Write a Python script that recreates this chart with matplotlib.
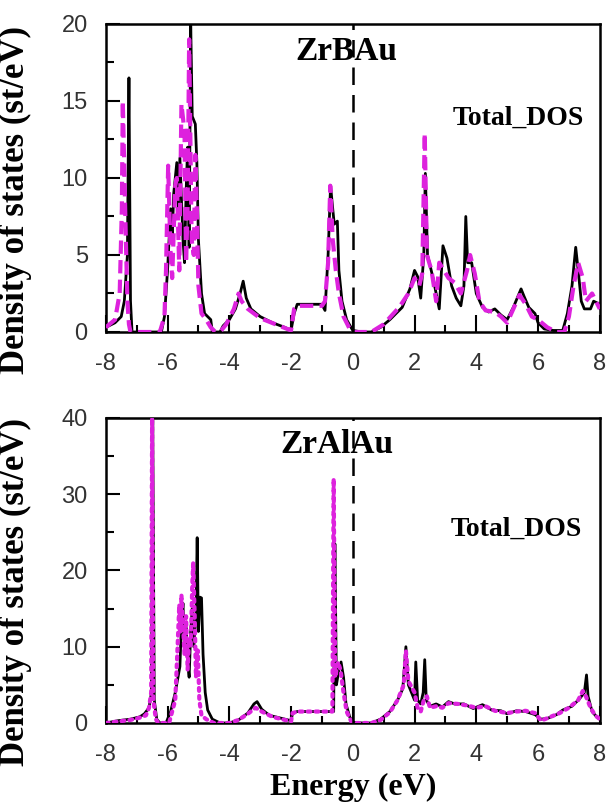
import matplotlib
matplotlib.use("Agg")
import matplotlib.pyplot as plt
from matplotlib.ticker import MultipleLocator

plt.rcParams['axes.unicode_minus'] = False
plt.rcParams['font.family'] = ['Liberation Sans', 'DejaVu Sans']

# ZrBAu total DOS (black solid) and second set (magenta dashed)
zrbau_e = [-8.0, -7.7, -7.5, -7.4, -7.3, -7.25, -7.2, -7.15, -6.2, -6.1, -6.0, -5.9, -5.85, -5.8,
           -5.7, -5.65, -5.6, -5.5, -5.45, -5.4, -5.35, -5.3, -5.25, -5.2, -5.1, -5.05, -5.0, -4.9,
           -4.8, -4.7, -4.6, -4.55, -4.3, -4.2, -4.0, -3.8, -3.65, -3.55, -3.45, -3.3, -3.0, -2.6,
           -2.2, -2.0, -1.9, -1.8, -1.0, -0.9, -0.8, -0.72, -0.65, -0.6, -0.5, -0.45, -0.35, -0.2,
           0.0, 0.3, 0.6, 0.9, 1.2, 1.6, 1.85, 2.0, 2.1, 2.2, 2.3, 2.35, 2.42, 2.6, 2.7, 2.8, 2.92,
           3.05, 3.2, 3.35, 3.5, 3.6, 3.66, 3.72, 3.85, 4.0, 4.2, 4.4, 4.6, 4.8, 5.0, 5.2, 5.45,
           5.55, 5.7, 5.9, 6.0, 6.2, 6.5, 6.8, 6.95, 7.1, 7.22, 7.3, 7.4, 7.5, 7.7, 7.8, 8.0]
zrbau_tot = [0.3, 0.6, 1.0, 2.0, 5.0, 16.5, 2.0, 0.0, 0.0, 1.0, 4.0, 8.0, 6.0, 9.0,
             11.0, 8.0, 11.3, 6.0, 4.5, 9.0, 12.0, 5.5, 20.0, 14.0, 13.5, 11.0, 6.0, 2.5,
             1.2, 1.0, 0.8, 0.0, 0.0, 0.4, 0.8, 1.5, 2.5, 3.3, 2.2, 1.5, 1.0, 0.6,
             0.3, 0.1, 1.2, 1.8, 1.8, 1.4, 5.0, 9.5, 8.0, 7.0, 7.2, 4.0, 2.0, 0.8,
             0.1, 0.0, 0.0, 0.3, 0.8, 1.6, 2.8, 4.0, 3.6, 2.2, 5.0, 10.3, 5.0, 3.5, 2.5, 1.5, 5.6,
             4.8, 3.0, 2.2, 1.7, 3.0, 7.5, 4.5, 4.5, 2.5, 1.6, 1.3, 1.5, 1.1, 0.8, 1.6, 2.8,
             2.3, 1.6, 1.2, 0.6, 0.2, 0.1, 0.1, 1.2, 3.0, 5.5, 4.0, 2.0, 1.5, 1.5, 2.0, 1.8]

zrbau_e2 = [-8.0, -7.7, -7.55, -7.48, -7.45, -7.35, -7.3, -7.25, -7.2, -6.25, -6.1, -6.05, -5.98,
            -5.9, -5.85, -5.75, -5.7, -5.62, -5.55, -5.45, -5.4, -5.35, -5.3, -5.22, -5.15, -5.1,
            -5.05, -5.0, -4.9, -4.75, -4.6, -4.45, -4.3, -4.1, -3.85, -3.7, -3.6, -3.4, -3.0, -2.5,
            -2.0, -1.9, -1.8, -1.0, -0.9, -0.8, -0.73, -0.65, -0.55, -0.45, -0.3, -0.1, 0.0, 0.6,
            1.0, 1.5, 1.8, 2.0, 2.15, 2.25, 2.33, 2.4, 2.55, 2.7, 2.8, 2.95, 3.1, 3.3, 3.5, 3.7,
            3.8, 3.95, 4.1, 4.3, 4.6, 4.8, 5.0, 5.2, 5.4, 5.6, 5.8, 6.0, 6.3, 6.6, 6.85, 7.0,
            7.15, 7.3, 7.45, 7.55, 7.75, 8.0]
zrbau_tot2 = [0.3, 0.8, 2.5, 8.0, 15.0, 6.0, 2.0, 0.5, 0.0, 0.0, 1.0, 4.0, 10.8,
              5.0, 3.5, 9.5, 10.0, 4.0, 14.8, 13.0, 4.5, 8.0, 19.0, 6.0, 5.0, 11.5,
              8.0, 3.0, 1.2, 0.8, 0.3, 0.0, 0.0, 0.5, 1.5, 2.5, 2.0, 1.5, 0.9, 0.5,
              0.1, 1.5, 1.7, 1.7, 2.0, 4.5, 9.5, 6.0, 4.0, 2.5, 1.0, 0.2, 0.0, 0.0,
              0.5, 1.6, 2.5, 3.5, 3.0, 3.8, 12.9, 5.0, 4.0, 2.0, 4.5, 4.0, 3.5, 3.2, 2.5, 4.0,
              5.0, 3.8, 2.0, 1.4, 1.3, 1.0, 0.6, 1.5, 2.4, 1.8, 1.0, 0.8, 0.3, 0.0, 0.0, 1.0,
              3.0, 4.5, 3.5, 2.0, 2.5, 1.5]

# ZrAlAu total DOS (black solid) and second set (magenta dotted)
zralau_e = [-8.0, -7.6, -7.2, -6.9, -6.75, -6.6, -6.52, -6.48, -6.43, -6.35, -6.25, -6.05, -5.9,
            -5.75, -5.6, -5.55, -5.5, -5.45, -5.4, -5.35, -5.3, -5.25, -5.2, -5.15, -5.08, -5.04,
            -5.0, -4.95, -4.9, -4.85, -4.78, -4.7, -4.55, -4.3, -4.0, -3.7, -3.4, -3.2, -3.1, -2.95,
            -2.7, -2.3, -2.0, -1.95, -1.8, -1.0, -0.62, -0.58, -0.53, -0.45, -0.38, -0.3, -0.22,
            -0.1, 0.0, 0.3, 0.6, 0.9, 1.2, 1.45, 1.62, 1.72, 1.8, 1.9, 2.0, 2.04, 2.1, 2.2, 2.28,
            2.33, 2.38, 2.5, 2.7, 2.9, 3.1, 3.3, 3.6, 3.9, 4.2, 4.5, 4.8, 5.0, 5.3, 5.6, 5.9, 6.1,
            6.3, 6.6, 6.8, 7.1, 7.35, 7.5, 7.57, 7.62, 7.75, 7.9, 8.0]
zralau_tot = [0.0, 0.3, 0.5, 0.8, 1.2, 2.0, 4.0, 40.0, 3.0, 0.5, 0.0, 0.0, 1.5,
              4.0, 7.4, 13.0, 15.7, 10.0, 12.5, 8.0, 6.0, 12.0, 15.0, 10.0, 14.0, 24.3,
              12.0, 16.5, 16.4, 9.0, 4.0, 1.7, 0.5, 0.0, 0.0, 0.4, 1.3, 2.5, 2.8, 1.8,
              1.0, 0.6, 0.3, 1.3, 1.5, 1.5, 1.5, 23.5, 5.0, 7.0, 8.0, 6.0, 2.5,
              0.8, 0.1, 0.0, 0.0, 0.5, 1.5, 3.0, 4.5, 10.0, 5.0, 4.0, 3.0, 8.0, 3.0, 2.5, 4.0,
              8.3, 3.0, 2.2, 2.5, 2.1, 2.8, 2.5, 2.5, 1.9, 2.4, 1.7, 1.6, 1.2, 1.6, 1.5, 1.1, 0.5,
              0.6, 1.1, 1.7, 2.2, 3.2, 4.0, 6.3, 3.5, 1.5, 0.8, 0.5]

zralau_e2 = [-8.0, -7.6, -7.2, -6.9, -6.7, -6.6, -6.53, -6.5, -6.46, -6.38, -6.3, -5.95, -5.85,
             -5.75, -5.68, -5.62, -5.58, -5.55, -5.5, -5.45, -5.4, -5.35, -5.3, -5.25, -5.2, -5.17,
             -5.12, -5.08, -5.02, -4.97, -4.9, -4.75, -4.5, -4.0, -3.7, -3.4, -3.15, -2.95, -2.6,
             -2.0, -1.95, -1.8, -1.0, -0.66, -0.62, -0.57, -0.48, -0.4, -0.3, -0.2, -0.05, 0.0,
             0.6, 0.9, 1.2, 1.45, 1.65, 1.72, 1.8, 2.0, 2.1, 2.2, 2.3, 2.4, 2.5, 2.7, 2.9, 3.1,
             3.4, 3.7, 4.0, 4.3, 4.6, 5.0, 5.3, 5.6, 5.9, 6.1, 6.4, 6.7, 7.0, 7.3, 7.45, 7.55,
             7.7, 7.85, 8.0]
zralau_tot2 = [0.0, 0.2, 0.4, 0.7, 1.0, 2.0, 4.0, 40.0, 3.0, 0.5, 0.0, 0.0, 1.5,
               3.0, 9.5, 15.5, 12.0, 16.8, 13.0, 9.0, 14.0, 7.0, 11.0, 10.0, 18.0, 21.0,
               14.0, 6.0, 9.5, 3.0, 1.0, 0.5, 0.0, 0.0, 0.4, 1.2, 2.0, 1.5, 0.8,
               0.2, 1.3, 1.5, 1.5, 1.5, 32.0, 6.0, 8.0, 7.0, 4.0, 1.5, 0.2, 0.0,
               0.0, 0.4, 1.4, 3.0, 5.0, 9.5, 5.5, 4.0, 2.0, 1.5, 3.0, 3.5, 2.0, 2.2, 2.0, 2.6,
               2.5, 2.3, 2.0, 2.2, 1.6, 1.3, 1.5, 1.6, 1.3, 0.3, 0.8, 1.3, 2.0, 3.0, 4.2, 3.5,
               2.0, 1.0, 0.5]

x_ticks = [-8, -6, -4, -2, 0, 2, 4, 6, 8]
magenta = '#dd22dd'
serif_bold = dict(family=['Liberation Serif', 'DejaVu Serif'], fontweight='bold')

fig = plt.figure(figsize=(6.08, 8.07), dpi=100)
ax1 = fig.add_axes([0.174, 0.5886, 0.8125, 0.3817])
ax2 = fig.add_axes([0.174, 0.1041, 0.8125, 0.378])

# top panel
ax1.plot(zrbau_e, zrbau_tot, color='black', lw=2.0, zorder=2)
ax1.plot(zrbau_e2, zrbau_tot2, color=magenta, lw=3.0, ls=(0, (3.2, 1.5)), zorder=3)
ax1.set_ylim(0, 20)
ax1.yaxis.set_major_locator(MultipleLocator(5))
ax1.yaxis.set_minor_locator(MultipleLocator(2.5))
ax1.text(-0.2, 18.2, 'ZrBAu', ha='center', va='center', fontsize=24, **serif_bold)
ax1.text(5.35, 13.9, 'Total_DOS', ha='center', va='center', fontsize=20, **serif_bold)

# bottom panel
ax2.plot(zralau_e, zralau_tot, color='black', lw=2.0, zorder=2)
ax2.plot(zralau_e2, zralau_tot2, color=magenta, lw=3.0, ls=(0, (0.7, 1.2)),
         dash_capstyle='round', zorder=3)
ax2.set_ylim(0, 40)
ax2.yaxis.set_major_locator(MultipleLocator(10))
ax2.yaxis.set_minor_locator(MultipleLocator(5))
ax2.text(-0.5, 36.5, 'ZrAlAu', ha='center', va='center', fontsize=24, **serif_bold)
ax2.text(5.3, 25.4, 'Total_DOS', ha='center', va='center', fontsize=20, **serif_bold)
ax2.set_xlabel('Energy (eV)', fontsize=23, **serif_bold)
ax2.xaxis.set_label_coords(0.5, -0.165)

for ax in (ax1, ax2):
    ax.axvline(0, color='black', lw=1.8, ls=(0, (7, 4)), zorder=4)
    ax.set_xlim(-8, 8)
    ax.set_xticks(x_ticks)
    ax.xaxis.set_minor_locator(MultipleLocator(1))
    ax.tick_params(which='both', direction='in', top=False, right=False, width=1.5,
                   labelsize=17, labelcolor='#333333')
    ax.tick_params(axis='y', which='major', length=10, pad=13)
    ax.tick_params(axis='y', which='minor', length=6)
    ax.tick_params(axis='x', which='major', length=12, pad=15)
    ax.tick_params(axis='x', which='minor', length=5)
    for s in ax.spines.values():
        s.set_linewidth(1.8)
    ax.set_ylabel('Density of states (st/eV)', fontsize=25, **serif_bold)
    ax.yaxis.set_label_coords(-0.15, 0.43)

fig.savefig('out.png', dpi=100)
